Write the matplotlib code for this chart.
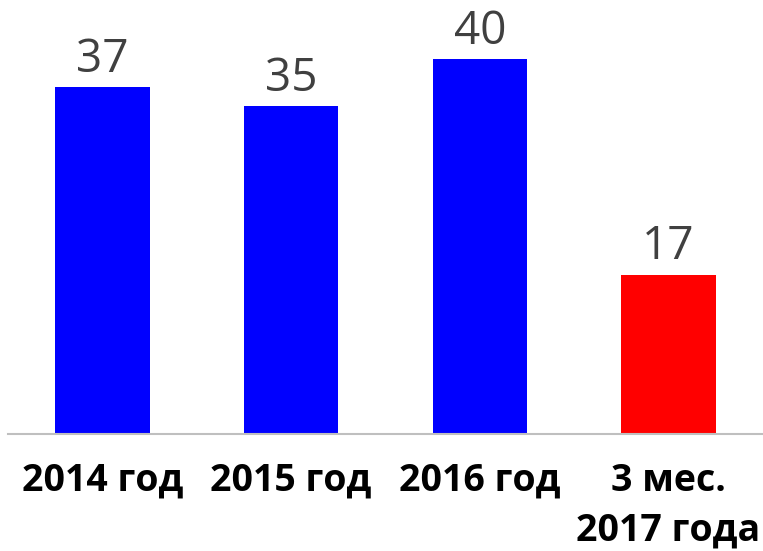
import matplotlib.pyplot as plt

categories = ["2014 год", "2015 год", "2016 год", "3 мес.\n2017 года"]
values = [37, 35, 40, 17]
colors = ["#0000FF", "#0000FF", "#0000FF", "#FF0000"]

fig = plt.figure(figsize=(7.63, 5.51), dpi=100)
ax = fig.add_axes([8 / 763, 117 / 551, 755 / 763, 434 / 551])

x = range(len(values))
bars = ax.bar(x, values, width=0.5, color=colors)
ax.set_xlim(-0.5, 3.5)
ax.set_ylim(0, 46.3)

for b, v in zip(bars, values):
    ax.annotate(str(v), xy=(b.get_x() + b.get_width() / 2, v),
                xytext=(0, 3), textcoords="offset points",
                ha="center", va="bottom", fontsize=33,
                family="Open Sans", color="#404040")

ax.set_xticks(list(x))
ax.set_xticklabels(categories, fontsize=27, fontweight="bold",
                   family="Open Sans", color="black", linespacing=1.42)
ax.tick_params(axis="x", length=0, pad=20)
ax.set_yticks([])
for s in ["top", "right", "left"]:
    ax.spines[s].set_visible(False)
ax.spines["bottom"].set_color("#BFBFBF")
ax.spines["bottom"].set_linewidth(1.5)

fig.savefig("out.png", dpi=100)
